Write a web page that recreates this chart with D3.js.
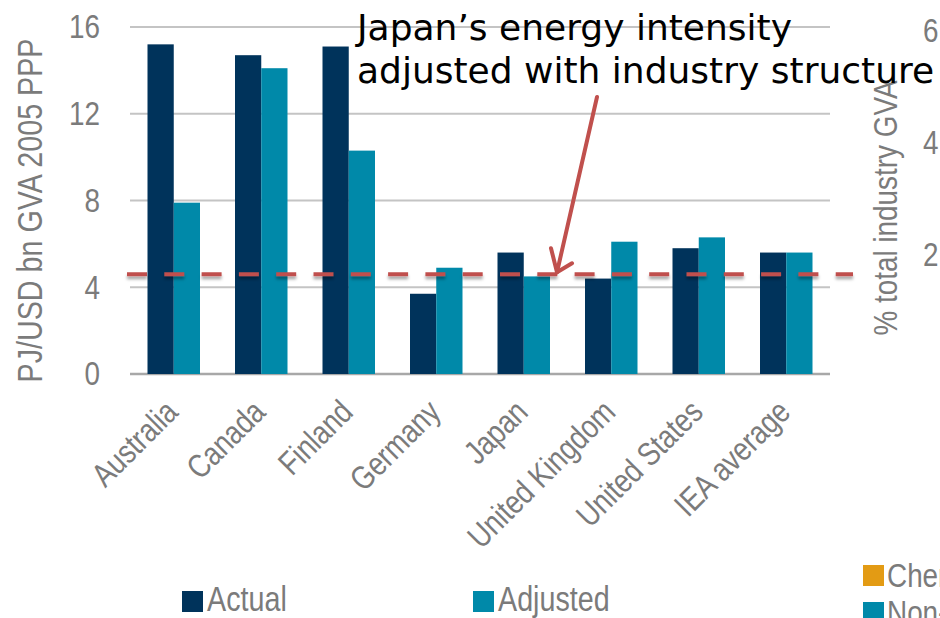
<!DOCTYPE html>
<html>
<head>
<meta charset="utf-8">
<script src="https://cdn.jsdelivr.net/npm/d3@7"></script>
<style>
  html, body { margin: 0; padding: 0; background: #fff; overflow: hidden; }
  svg { display: block; }
  .gray { font-family: "Liberation Sans", Arial, sans-serif; fill: #7b7b7b; }
</style>
</head>
<body>
<svg id="chart" width="940" height="618"></svg>
<script>
// ---- data ----
const categories = ["Australia", "Canada", "Finland", "Germany", "Japan", "United Kingdom", "United States", "IEA average"];
const seriesNames = ["Actual", "Adjusted"];
const actual   = [15.2, 14.7, 15.1, 3.7, 5.6, 4.4, 5.8, 5.6];
const adjusted = [7.9, 14.1, 10.3, 4.9, 4.5, 6.1, 6.3, 5.6];
const yTicks = [0, 4, 8, 12, 16];
const rightTicks = ["2", "4", "6"];
const rightTickValues = [2, 4, 6];
const referenceLevel = [4.6];
const rightLegend = ["Chemicals", "Non-metallic minerals"];
const annotation = ["Japan\u2019s energy intensity", "adjusted with industry structure"];
const yTitle = "PJ/USD bn GVA 2005 PPP";
const rightTitle = "% total industry GVA";

const colors = { Actual: "#00335b", Adjusted: "#0089a9" };
const rightColors = ["#e39b14", "#0089a9"];
const NARROW = "scale(0.82,1)";

const svg = d3.select("#chart");
const defs = svg.append("defs");
const f = defs.append("filter").attr("id", "shadow").attr("filterUnits", "userSpaceOnUse")
  .attr("x", 0).attr("y", 0).attr("width", 940).attr("height", 618);
f.append("feDropShadow").attr("dx", 0).attr("dy", 3).attr("stdDeviation", 1.6).attr("flood-color", "#000").attr("flood-opacity", 0.35);

const x0 = d3.scaleBand().domain(categories).range([130, 830]).paddingInner(0.4).paddingOuter(0.2);
const x1 = d3.scaleBand().domain(seriesNames).range([0, x0.bandwidth()]).padding(0);
const y = d3.scaleLinear().domain([0, 16]).range([374, 27]);
const yR = d3.scaleLinear().domain([0, 6]).range([365, 30]);

// gridlines
svg.append("g").selectAll("line").data(yTicks).join("line")
  .attr("x1", 130).attr("x2", 830)
  .attr("y1", d => y(d)).attr("y2", d => y(d))
  .attr("stroke", d => d === 0 ? "#a8a8a8" : "#c4c4c4")
  .attr("stroke-width", d => d === 0 ? 2.5 : 2);

// left tick labels
svg.append("g").selectAll("text").data(yTicks).join("text")
  .attr("class", "gray")
  .attr("transform", d => `translate(100, ${y(d) - 1}) ${NARROW}`)
  .attr("dy", "0.36em")
  .attr("text-anchor", "end")
  .attr("font-size", 34)
  .text(d => d);

// left axis title
svg.append("text").attr("class", "gray")
  .attr("transform", `translate(42, ${(y(0) + y(16)) / 2 + 10}) rotate(-90) ${NARROW}`)
  .attr("text-anchor", "middle").attr("font-size", 35)
  .text(yTitle);

// right axis title
svg.append("text").attr("class", "gray")
  .attr("transform", `translate(897, 208) rotate(-90) ${NARROW}`)
  .attr("text-anchor", "middle").attr("font-size", 34)
  .text(rightTitle);

// right tick labels
svg.append("g").selectAll("text").data(rightTickValues).join("text")
  .attr("class", "gray")
  .attr("transform", d => `translate(923, ${yR(d)}) ${NARROW}`)
  .attr("dy", "0.36em")
  .attr("font-size", 34)
  .text((d, i) => rightTicks[i]);

// bars
const groups = svg.append("g").selectAll("g").data(categories).join("g")
  .attr("transform", d => `translate(${x0(d)},0)`);
groups.selectAll("rect")
  .data((d, i) => seriesNames.map(s => ({ s, v: s === "Actual" ? actual[i] : adjusted[i] })))
  .join("rect")
  .attr("x", d => x1(d.s))
  .attr("width", x1.bandwidth())
  .attr("y", d => y(d.v))
  .attr("height", d => y(0) - y(d.v))
  .attr("fill", d => colors[d.s]);

// category labels
svg.append("g").selectAll("text").data(categories).join("text")
  .attr("class", "gray")
  .attr("transform", d => `translate(${x0(d) + x0.bandwidth() / 2 + 6}, 414) rotate(-45) ${NARROW}`)
  .attr("text-anchor", "end")
  .attr("font-size", 33)
  .text(d => d);

// dashed reference line
svg.append("g").selectAll("line").data(referenceLevel).join("line")
  .attr("x1", 127).attr("x2", 853)
  .attr("y1", d => y(d)).attr("y2", d => y(d))
  .attr("stroke", "#c0504d").attr("stroke-width", 4)
  .attr("stroke-dasharray", "20 17.3")
  .attr("filter", "url(#shadow)");

// arrow
const tipY = y(referenceLevel[0]) - 2;
const arrow = svg.append("g").attr("stroke", "#c0504d").attr("stroke-width", 4).attr("fill", "none")
  .attr("stroke-linecap", "round").attr("stroke-linejoin", "round");
arrow.append("line").attr("x1", 597).attr("y1", 97).attr("x2", 557).attr("y2", tipY);
arrow.append("path").attr("d", `M551,${tipY - 24} L557,${tipY} L572,${tipY - 9}`);

// annotation text
svg.append("g").selectAll("text").data(annotation).join("text")
  .attr("x", 357).attr("y", (d, i) => 40 + i * 43)
  .attr("font-family", "'DejaVu Sans', Verdana, sans-serif")
  .attr("font-size", 36).attr("fill", "#000")
  .text(d => d);

// bottom legend
const legX = [182, 473];
const leg = svg.append("g").selectAll("g").data(seriesNames).join("g")
  .attr("transform", (d, i) => `translate(${legX[i]}, 591)`);
leg.append("rect").attr("width", 21).attr("height", 21).attr("fill", d => colors[d]);
leg.append("text").attr("class", "gray").attr("transform", `translate(25, 20) ${NARROW}`)
  .attr("font-size", 35).text(d => d);

// right legend
const rleg = svg.append("g").selectAll("g").data(rightLegend).join("g")
  .attr("transform", (d, i) => `translate(863, ${565 + i * 37})`);
rleg.append("rect").attr("width", 21).attr("height", 21).attr("fill", (d, i) => rightColors[i]);
rleg.append("text").attr("class", "gray").attr("transform", `translate(24, 22) ${NARROW}`)
  .attr("font-size", 34).text(d => d);
</script>
</body>
</html>
